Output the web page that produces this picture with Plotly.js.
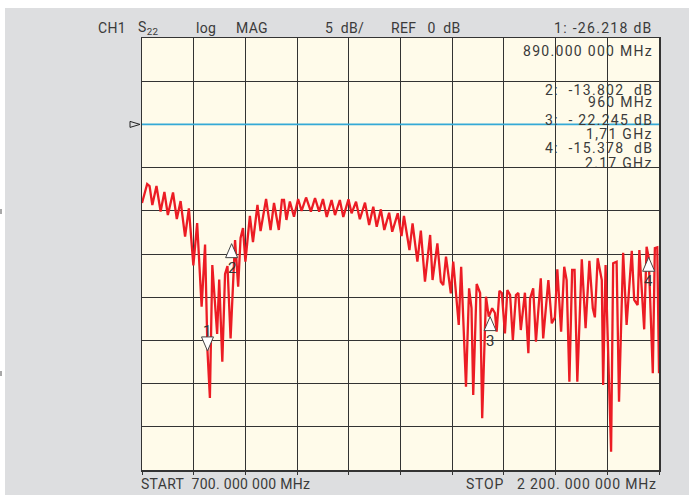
<!DOCTYPE html>
<html>
<head>
<meta charset="utf-8">
<script src="https://cdn.plot.ly/plotly-3.0.1.min.js"></script>
<style>
  html, body { margin: 0; padding: 0; background: #ffffff; }
  #chart { width: 689px; height: 495px; }
</style>
</head>
<body>
<div id="chart"></div>
<script>
// ---- data (S22, log MAG, 5 dB/div, REF 0 dB) ----
const freqMHz = [
  700,715,722,730,742,754,765,775,790,801,
  812,825,836,849,860,873,883,890,897,904,
  918,924,933,941,948,957,970,979,986,993,
  1000,1013,1022,1035,1044,1060,1073,1083,1097,1106,
  1112,1119,1129,1141,1153,1163,1176,1190,1202,1214,
  1225,1236,1250,1260,1274,1284,1299,1308,1321,1332,
  1347,1359,1371,1381,1393,1403,1417,1426,1442,1453,
  1460,1476,1485,1499,1509,1521,1536,1543,1557,1567,
  1574,1582,1596,1603,1619,1626,1640,1649,1656,1661,
  1671,1681,1687,1698,1706,1716,1724,1729,1737,1744,
  1753,1760,1768,1776,1785,1792,1799,1811,1821,1826,
  1835,1843,1857,1864,1879,1889,1898,1905,1916,1925,
  1932,1940,1948,1955,1963,1976,1987,1998,2008,2014,
  2022,2034,2038,2045,2061,2067,2077,2084,2096,2106,
  2121,2128,2138,2143,2157,2164,2170,2182,2188,2195,
  2200
];
const s22dB = [
  -9.10,-6.90,-7.13,-9.33,-7.13,-10.08,-7.82,-10.49,-7.88,-10.95,
  -8.87,-13.00,-9.71,-16.33,-11.41,-21.10,-13.90,-26.22,-31.67,-16.27,
  -24.26,-17.95,-27.46,-17.31,-16.39,-24.76,-13.38,-18.78,-13.15,-11.99,
  -15.89,-10.60,-13.61,-9.33,-12.34,-8.63,-12.22,-9.10,-12.22,-8.75,
  -8.75,-11.06,-8.92,-10.68,-8.63,-10.02,-8.46,-10.10,-8.52,-10.10,
  -8.63,-10.72,-8.75,-10.49,-8.75,-10.72,-8.67,-10.29,-8.95,-10.98,
  -9.06,-11.64,-9.53,-11.84,-9.83,-12.22,-10.22,-12.42,-10.29,-12.92,
  -10.60,-14.54,-11.45,-15.89,-12.30,-18.21,-12.80,-18.01,-13.76,-18.21,
  -18.59,-15.31,-19.55,-15.89,-23.22,-16.47,-30.36,-18.97,-21.25,-31.32,
  -18.47,-19.51,-34.02,-19.94,-22.25,-21.28,-21.83,-23.99,-19.25,-19.51,
  -24.18,-19.17,-19.75,-24.95,-19.75,-19.51,-23.80,-19.48,-26.49,-20.13,
  -18.97,-25.15,-17.81,-24.76,-18.01,-23.02,-22.33,-16.77,-23.99,-16.47,
  -18.01,-29.78,-16.85,-16.85,-29.78,-15.61,-23.60,-15.78,-21.28,-22.33,
  -15.50,-18.01,-30.16,-16.27,-37.88,-16.08,-15.89,-32.09,-14.85,-23.22,
  -14.62,-20.32,-20.90,-14.54,-23.72,-14.15,-15.38,-28.81,-14.31,-14.22,
  -28.81
];

// markers
const markerNum = ['1','2','3','4'];
const markerFreqMHz = [890, 960, 1710, 2170];
const markerDb = [-26.218, -13.802, -22.245, -15.378];
const markerDbText = ['1: -26.218 dB', '2:  -13.802  dB', '3:  - 22.245 dB', '4:  -15.378  dB'];
const markerFreqText = ['890.000 000 MHz', '960 MHz', '1,71 GHz', '2.17 GHz'];
const markerPointsDown = [true, false, false, false];

// axis / header
const startMHz = 700, stopMHz = 2200;
const refDb = 0, dbPerDiv = 5;
const topDb = 10, bottomDb = -40;
const headerTexts = ['CH1', 'S<sub>22</sub>', 'log', 'MAG', '5  dB/', 'REF   0  dB'];
const footerTexts = ['START  700. 000 000 MHz', 'STOP   2 200. 000 000 MHz'];

// ---- layout helpers (pixel -> paper) ----
const L = 142, T = 38, W = 517, H = 432;
const px = v => (v - L) / W;
const py = v => (T + H - v) / H;
const nb = s => s.replace(/  /g, ' \u00a0');

const FONT = 'Roboto, "Liberation Sans", sans-serif';
const TXT = '#3a3a3a';
const annotations = [];
function addText(t, xp, yp, anchor, spacing) {
  let s = nb(t);
  if (spacing) s = '<span style="letter-spacing:' + spacing + 'px">' + s + '</span>';
  annotations.push({
    text: s, xref: 'paper', yref: 'paper', x: px(xp), y: py(yp),
    xanchor: anchor || 'left', yanchor: 'middle', showarrow: false,
    font: {family: FONT, size: 14, color: TXT}
  });
}
const headerX = [96, 136, 194, 234, 323, 389];
headerTexts.forEach((t, i) => addText(t, headerX[i], 28, 'left', 0.3));
const dbY = [28, 90, 120, 148];
const fY = [51, 102, 134, 163];
markerDbText.forEach((t, i) => addText(t, 655, dbY[i], 'right', 1.3));
markerFreqText.forEach((t, i) => addText(t, 655, fY[i], 'right', 1.3));
addText(footerTexts[0], 139, 484, 'left', 0.3);
addText(footerTexts[1], 659, 484, 'right', 0.8);

// marker number labels
markerNum.forEach((n, i) => {
  annotations.push({
    text: n, xref: 'x', yref: 'y', x: markerFreqMHz[i], y: markerDb[i],
    showarrow: false, yshift: markerPointsDown[i] ? 20 : -24,
    font: {family: FONT, size: 15, color: '#333'}
  });
});

const shapes = [
  // white page margins outside the grey panel
  {type: 'rect', xref: 'paper', yref: 'paper', x0: px(0), x1: px(5), y0: py(495), y1: py(0),
   fillcolor: '#ffffff', line: {width: 0}, layer: 'below'},
  {type: 'rect', xref: 'paper', yref: 'paper', x0: px(0), x1: px(689), y0: py(8), y1: py(0),
   fillcolor: '#ffffff', line: {width: 0}, layer: 'below'},
  {type: 'rect', xref: 'paper', yref: 'paper', x0: px(0), x1: px(2), y0: py(214), y1: py(209),
   fillcolor: '#a8a8a8', line: {width: 0}, layer: 'below'},
  {type: 'rect', xref: 'paper', yref: 'paper', x0: px(0), x1: px(2), y0: py(376), y1: py(371),
   fillcolor: '#a8a8a8', line: {width: 0}, layer: 'below'},
  // reference line
  {type: 'line', xref: 'x domain', yref: 'y', x0: 0, x1: 1, y0: refDb, y1: refDb,
   line: {color: '#35a9d6', width: 1.6}, layer: 'above'},
  // reference indicator
  {type: 'path', xref: 'paper', yref: 'paper', xsizemode: 'pixel', ysizemode: 'pixel',
   xanchor: 0, yanchor: (refDb - bottomDb) / (topDb - bottomDb),
   path: 'M-12,3 L-2,0 L-12,-3 Z', line: {color: '#222', width: 1}, fillcolor: 'rgba(0,0,0,0)'}
];
markerFreqMHz.forEach((f, i) => {
  shapes.push({
    type: 'path', xref: 'x', yref: 'y', xsizemode: 'pixel', ysizemode: 'pixel',
    xanchor: f, yanchor: markerDb[i],
    path: markerPointsDown[i] ? 'M0,0 L-6,14 L6,14 Z' : 'M0,0 L-6,-14 L6,-14 Z',
    fillcolor: '#ffffff', line: {color: '#444', width: 1}, layer: 'above'
  });
});

const trace = {
  x: freqMHz, y: s22dB, type: 'scatter', mode: 'lines',
  line: {color: '#ec1c24', width: 2.3, shape: 'linear'},
  hoverinfo: 'skip'
};

const layout = {
  width: 689, height: 495,
  margin: {l: L, r: 689 - L - W, t: T, b: 495 - T - H, pad: 0},
  paper_bgcolor: '#dddee0',
  plot_bgcolor: '#fffbea',
  showlegend: false,
  xaxis: {
    range: [startMHz, stopMHz], dtick: (stopMHz - startMHz) / 10, tick0: startMHz,
    showgrid: true, gridcolor: '#333333', gridwidth: 1,
    showline: true, mirror: true, linecolor: '#333', linewidth: 1.5,
    zeroline: false, showticklabels: false,
    ticks: 'outside', ticklen: 3, tickcolor: '#333', tickwidth: 1
  },
  yaxis: {
    range: [bottomDb, topDb], dtick: dbPerDiv, tick0: bottomDb,
    showgrid: true, gridcolor: '#333333', gridwidth: 1,
    showline: true, mirror: true, linecolor: '#333', linewidth: 1.5,
    zeroline: false, showticklabels: false, ticks: ''
  },
  annotations: annotations,
  shapes: shapes
};

Plotly.newPlot('chart', [trace], layout, {displayModeBar: false, staticPlot: true});
</script>
</body>
</html>
